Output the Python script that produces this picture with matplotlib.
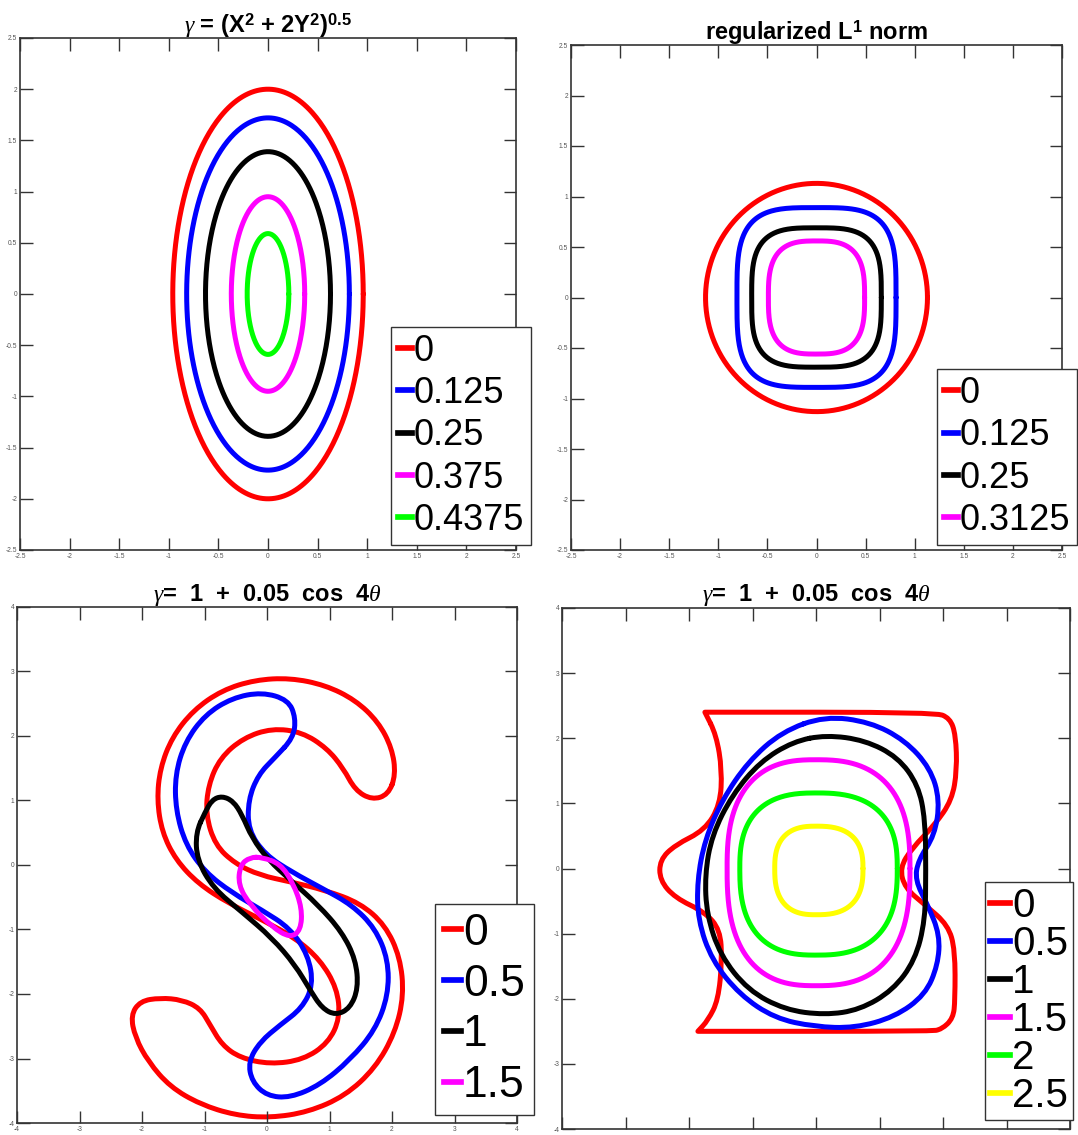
import numpy as np
import matplotlib
matplotlib.use("Agg")
import matplotlib.pyplot as plt
from matplotlib.path import Path
from matplotlib.patches import PathPatch
from matplotlib.lines import Line2D

plt.rcParams['font.family'] = ['Liberation Sans', 'DejaVu Sans']
plt.rcParams['mathtext.fontset'] = 'custom'
plt.rcParams['mathtext.rm'] = 'Liberation Sans:bold'
plt.rcParams['mathtext.bf'] = 'Liberation Sans:bold'
plt.rcParams['mathtext.it'] = 'Liberation Serif:italic'
plt.rcParams['axes.unicode_minus'] = False

# ---------------- data ----------------
# panel 1: ellipse semi-axes (x, y) for each time
p1_labels = ['0', '0.125', '0.25', '0.375', '0.4375']
p1_colors = ['#ff0000', '#0000ff', '#000000', '#ff00ff', '#00ff00']
p1_ax = [0.96, 0.82, 0.63, 0.37, 0.21]
p1_ay = [2.00, 1.72, 1.39, 0.95, 0.59]

# panel 2: rounded squares (half width, half height, squareness exponent)
p2_labels = ['0', '0.125', '0.25', '0.3125']
p2_colors = ['#ff0000', '#0000ff', '#000000', '#ff00ff']
p2_ax = [1.13, 0.81, 0.66, 0.49]
p2_ay = [1.13, 0.89, 0.69, 0.56]
p2_n = [2.0, 3.6, 3.4, 3.0]

# panel 3: traced S-shaped curves
p3_labels = ['0', '0.5', '1', '1.5']
p3_colors = ['#ff0000', '#0000ff', '#000000', '#ff00ff']
p3_red_x = [2.06, 2.00, 1.78, 1.41, 0.93, 0.37, -0.19, -0.72, -1.18, -1.52, -1.71, -1.76, -1.68,
            -1.46, -1.10, -0.62, -0.08, 0.45, 0.85, 1.12, 1.17, 0.98, 0.58, 0.05, -0.43, -0.72,
            -0.91, -1.07, -1.36, -1.71, -2.03, -2.18, -2.11, -1.90, -1.55, -1.07, -0.51, 0.05,
            0.66, 1.25, 1.73, 2.05, 2.19, 2.13, 1.89, 1.49, 0.93, 0.37, -0.11, -0.51, -0.83,
            -0.98, -0.94, -0.75, -0.38, 0.08, 0.56, 0.96, 1.22, 1.41, 1.68, 1.94]
p3_red_y = [1.40, 1.81, 2.22, 2.56, 2.79, 2.90, 2.87, 2.71, 2.40, 1.98, 1.50, 1.01, 0.51,
            0.08, -0.29, -0.59, -0.85, -1.13, -1.47, -1.91, -2.37, -2.76, -3.02, -3.09, -2.99, -2.79,
            -2.48, -2.22, -2.09, -2.06, -2.11, -2.33, -2.67, -3.05, -3.44, -3.71, -3.88, -3.92,
            -3.83, -3.58, -3.15, -2.60, -2.02, -1.43, -0.93, -0.59, -0.39, -0.26, -0.16, 0.02, 0.31,
            0.78, 1.24, 1.66, 1.97, 2.12, 2.06, 1.81, 1.50, 1.16, 1.01, 1.09]
p3_blue_x = [0.42, 0.46, 0.34, -0.08, -0.56, -0.99, -1.31, -1.47, -1.46, -1.30, -0.99, -0.56,
             -0.08, 0.37, 0.66, 0.74, 0.56, 0.21, -0.11, -0.30, -0.24, 0.00, 0.37, 0.85, 1.33,
             1.73, 1.94, 1.94, 1.73, 1.36, 0.88, 0.40, -0.03, -0.30, -0.30, -0.14, 0.13]
p3_blue_y = [1.97, 2.28, 2.56, 2.68, 2.59, 2.33, 1.91, 1.40, 0.85, 0.31, -0.11, -0.43,
             -0.70, -0.98, -1.40, -1.86, -2.22, -2.48, -2.74, -3.05, -3.36, -3.58, -3.61, -3.41, -3.02,
             -2.56, -2.02, -1.47, -0.98, -0.62, -0.36, -0.11, 0.16, 0.54, 1.01, 1.40, 1.67]
p3_black_x = [-0.99, -0.88, -0.72, -0.54, -0.40, -0.24, 0.02, 0.37, 0.82, 1.20, 1.42, 1.46, 1.33,
              1.10, 0.88, 0.69, 0.45, 0.08, -0.40, -0.86, -1.12, -1.14]
p3_black_y = [0.82, 1.01, 1.07, 0.99, 0.78, 0.42, 0.08, -0.23, -0.62, -1.04, -1.47, -1.91, -2.22,
              -2.33, -2.22, -1.94, -1.55, -1.13, -0.73, -0.36, 0.08, 0.50]
p3_mag_x = [-0.08, 0.21, 0.42, 0.56, 0.54, 0.37, 0.08, -0.27, -0.46, -0.43, -0.27]
p3_mag_y = [0.12, 0.02, -0.28, -0.67, -1.01, -1.13, -0.96, -0.62, -0.31, 0.00, 0.12]

# panel 4: traced curves + rounded inner shapes
p4_labels = ['0', '0.5', '1', '1.5', '2', '2.5']
p4_colors = ['#ff0000', '#0000ff', '#000000', '#ff00ff', '#00ff00', '#ffff00']
p4_red_x = [-1.75, -1.75, 1.87, 2.11, 2.20, 2.22, 2.14, 1.87, 1.51, 1.32, 1.40, 1.72, 2.08, 2.19,
            2.19, 2.16, 1.98, 1.80, -1.86, -1.86, -1.70, -1.54, -1.48, -1.51, -1.75, -2.22, -2.46,
            -2.46, -2.22, -1.75, -1.51, -1.48, -1.57]
p4_red_y = [2.40, 2.40, 2.40, 2.31, 2.05, 1.51, 1.05, 0.67, 0.31, 0.01, -0.30, -0.56, -0.87, -1.25,
            -2.02, -2.30, -2.47, -2.50, -2.50, -2.50, -2.33, -2.02, -1.41, -0.94, -0.67, -0.45, -0.18,
            0.13, 0.36, 0.59, 0.98, 1.51, 2.05]
p4_blue_x = [0.14, 0.85, 1.40, 1.80, 1.95, 1.87, 1.61, 1.56, 1.76, 1.95, 1.92, 1.72, 1.24, 0.61,
             -0.02, -0.65, -1.20, -1.64, -1.86, -1.87, -1.75, -1.48, -1.07, -0.54]
p4_blue_y = [2.34, 2.25, 1.97, 1.54, 1.05, 0.51, 0.13, -0.18, -0.56, -1.02, -1.48, -1.94, -2.28,
             -2.45, -2.43, -2.30, -1.94, -1.41, -0.79, -0.18, 0.44, 1.05, 1.64, 2.10]
p4_black_x = [0.16, 0.77, 1.29, 1.61, 1.72, 1.73, 1.72, 1.56, 1.21, 0.69, 0.14, -0.49, -1.07,
              -1.51, -1.72, -1.75, -1.64, -1.32, -0.88, -0.36]
p4_black_y = [2.05, 1.97, 1.71, 1.28, 0.75, -0.02, -0.79, -1.41, -1.87, -2.17, -2.25, -2.17, -1.87,
              -1.33, -0.71, -0.10, 0.51, 1.13, 1.64, 1.95]
# inner shapes (magenta, green, yellow): right, top, left, bottom extents
p4_right = [1.48, 1.28, 0.74]
p4_top = [1.67, 1.16, 0.65]
p4_left = [-1.40, -1.20, -0.65]
p4_bottom = [-1.80, -1.33, -0.71]

W, H = 1078, 1135
LW = 3.6


def smooth_path(xs, ys):
    # closed curve: quadratic bezier segments through the traced points
    pts = np.column_stack([xs, ys])
    mids = (pts + np.roll(pts, -1, axis=0)) / 2
    verts = [mids[-1]]
    codes = [Path.MOVETO]
    for i in range(len(pts)):
        verts += [pts[i], mids[i]]
        codes += [Path.CURVE3, Path.CURVE3]
    return Path(verts, codes)


def draw_curve(ax, xs, ys, color):
    ax.add_patch(PathPatch(smooth_path(xs, ys), fill=False, ec=color, lw=LW,
                           capstyle='round', joinstyle='round'))


def superellipse(right, top, left, bottom, n, m=400):
    # left / bottom are negative extents
    t = np.linspace(0, 2 * np.pi, m)
    c, s = np.cos(t), np.sin(t)
    ex = np.abs(c) ** (2 / n) * np.where(c >= 0, right, left)
    ey = np.abs(s) ** (2 / n) * np.where(s >= 0, top, bottom)
    return ex, ey


def make_axes(fig, l, t, r, b, lim, step):
    ax = fig.add_axes([l / W, 1 - b / H, (r - l) / W, (b - t) / H])
    ax.set_xlim(-lim, lim)
    ax.set_ylim(-lim, lim)
    ticks = np.arange(-lim, lim + step / 2, step)
    ax.set_xticks(ticks)
    ax.set_yticks(ticks)
    ax.set_xticklabels(['%g' % v for v in ticks])
    ax.set_yticklabels(['%g' % v for v in ticks])
    ax.tick_params(direction='in', length=9, width=1.0, top=True, right=True,
                   labelsize=4.8, labelcolor='#555555', color='#333333', pad=2)
    for sp in ax.spines.values():
        sp.set_color('#333333')
        sp.set_linewidth(1.2)
    return ax


def add_legend(ax, labels, colors, x0, y1, fs, spacing, hl=0.38, bp=0.2):
    handles = [Line2D([], [], color=c, lw=LW + 0.5) for c in colors]
    leg = ax.legend(handles, labels, loc='lower left', bbox_to_anchor=(x0 / W, 1 - y1 / H),
                    bbox_transform=ax.figure.transFigure, borderaxespad=0, fontsize=fs,
                    handlelength=hl, handletextpad=0.05, labelspacing=spacing, borderpad=bp,
                    fancybox=False, framealpha=1, edgecolor='#333333')
    leg.get_frame().set_linewidth(1.0)
    return leg


fig = plt.figure(figsize=(W / 100, H / 100), dpi=100)
title_kw = dict(fontsize=17, fontweight='bold', pad=4)
line_kw = dict(lw=LW, solid_capstyle='round', solid_joinstyle='round')

# ---- panel 1 ----
ax1 = make_axes(fig, 20, 38, 516, 550, 2.5, 0.5)
t = np.linspace(0, 2 * np.pi, 400)
for a, b, c in zip(p1_ax, p1_ay, p1_colors):
    ax1.plot(a * np.cos(t), b * np.sin(t), color=c, **line_kw)
ax1.set_title(r'$\gamma$ = (X$^2$ + 2Y$^2$)$^{0.5}$', **title_kw)
add_legend(ax1, p1_labels, p1_colors, 391, 545, 26, 0.2)

# ---- panel 2 ----
ax2 = make_axes(fig, 571, 45, 1062, 550, 2.5, 0.5)
for a, b, n, c in zip(p2_ax, p2_ay, p2_n, p2_colors):
    ex, ey = superellipse(a, b, -a, -b, n)
    ax2.plot(ex, ey, color=c, **line_kw)
ax2.set_title(r'regularized L$^1$ norm', **title_kw)
add_legend(ax2, p2_labels, p2_colors, 937, 545, 26, 0.2)

# ---- panel 3 ----
ax3 = make_axes(fig, 17, 607, 517, 1123, 4, 1)
draw_curve(ax3, p3_red_x, p3_red_y, p3_colors[0])
draw_curve(ax3, p3_blue_x, p3_blue_y, p3_colors[1])
draw_curve(ax3, p3_black_x, p3_black_y, p3_colors[2])
draw_curve(ax3, p3_mag_x, p3_mag_y, p3_colors[3])
ax3.set_title(r'$\gamma$=  1  +  0.05  cos  4$\theta$', **title_kw)
add_legend(ax3, p3_labels, p3_colors, 435, 1115, 32, 0.22)

# ---- panel 4 ----
ax4 = make_axes(fig, 562, 608, 1070, 1129, 4, 1)
ax4.tick_params(labelbottom=False)  # x labels fall below the picture edge
draw_curve(ax4, p4_red_x, p4_red_y, p4_colors[0])
draw_curve(ax4, p4_blue_x, p4_blue_y, p4_colors[1])
draw_curve(ax4, p4_black_x, p4_black_y, p4_colors[2])
for r, tp, l, b, c in zip(p4_right, p4_top, p4_left, p4_bottom, p4_colors[3:]):
    ex, ey = superellipse(r, tp, l, b, 2.6)
    ax4.plot(ex, ey, color=c, **line_kw)
ax4.set_title(r'$\gamma$=  1  +  0.05  cos  4$\theta$', **title_kw)
add_legend(ax4, p4_labels, p4_colors, 985, 1120, 29, 0.0, hl=0.5, bp=0.12)

fig.savefig('out.png', dpi=100)
